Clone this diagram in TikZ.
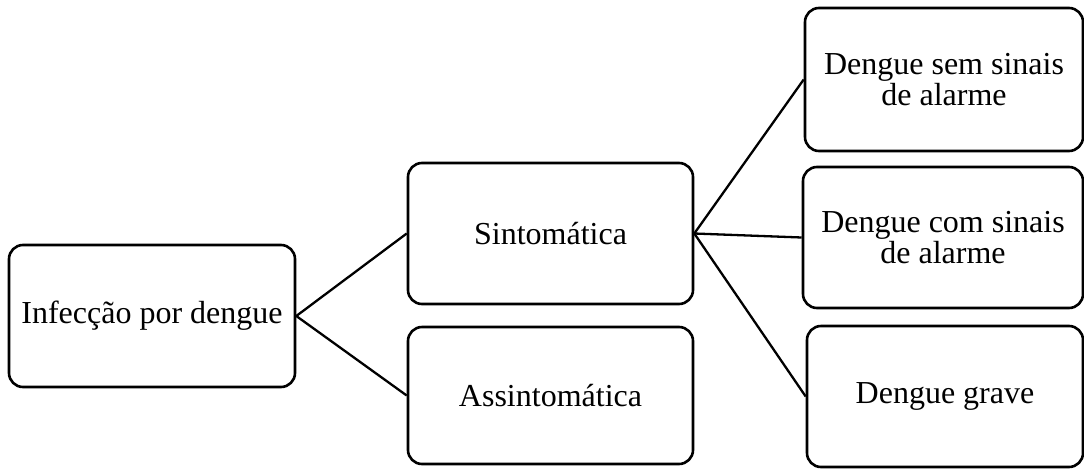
\documentclass[tikz,border=0pt]{standalone}
\usepackage{fontspec}
\setmainfont{Liberation Serif}
\begin{document}
\begin{tikzpicture}[x=1pt,y=-1pt,
  box/.style={draw=black, line width=2.6pt, rounded corners=14pt, align=center,
    inner sep=0pt, font=\fontsize{32}{31.5}\selectfont},
  link/.style={draw=black, line width=2.3pt}]
\useasboundingbox (0,0) rectangle (1084,469);
\node[box, minimum width=286pt, minimum height=142pt] (inf) at (152,316) {Infecção por dengue};
\node[box, minimum width=285pt, minimum height=141pt] (sint) at (550.5,233.5) {Sintomática};
\node[box, minimum width=285pt, minimum height=137pt] (assi) at (550.5,395.5) {Assintomática};
\node[box, minimum width=278pt, minimum height=143pt] (sem) at (944,79.5) {Dengue sem sinais\\de alarme};
\node[box, minimum width=280pt, minimum height=141pt] (com) at (943,237.5) {Dengue com sinais\\de alarme};
\node[box, minimum width=276pt, minimum height=141pt] (grave) at (945,396.5) {Dengue grave};
\draw[link] (inf.east) -- (sint.west);
\draw[link] (inf.east) -- (assi.west);
\draw[link] (sint.east) -- (sem.west);
\draw[link] (sint.east) -- (com.west);
\draw[link] (sint.east) -- (grave.west);
\end{tikzpicture}
\end{document}
